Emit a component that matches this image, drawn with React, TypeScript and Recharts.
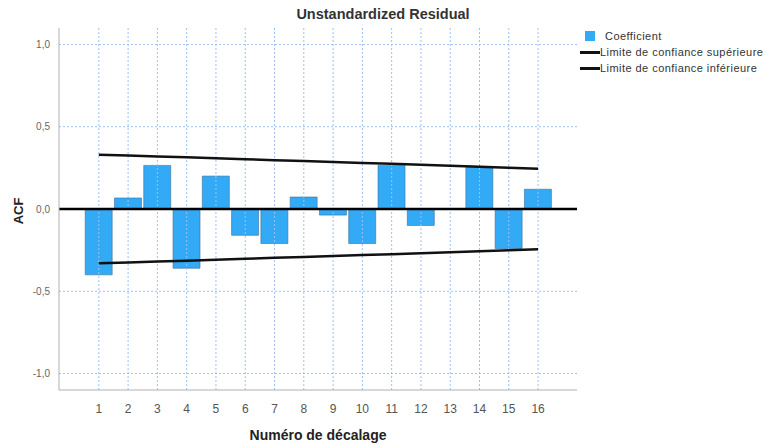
import React from "react";
import {
  ComposedChart,
  Bar,
  Line,
  XAxis,
  YAxis,
  ReferenceLine,
} from "recharts";

const lags = [1, 2, 3, 4, 5, 6, 7, 8, 9, 10, 11, 12, 13, 14, 15, 16];
const coefficient = [-0.4, 0.067, 0.265, -0.36, 0.2, -0.16, -0.21, 0.073, -0.037, -0.21, 0.265, -0.1, 0.0, 0.252, -0.24, 0.12];
const upperLimit = [0.33, 0.325, 0.319, 0.314, 0.308, 0.303, 0.297, 0.292, 0.286, 0.28, 0.275, 0.269, 0.263, 0.257, 0.251, 0.245];
const lowerLimit = [-0.33, -0.325, -0.319, -0.314, -0.308, -0.303, -0.297, -0.292, -0.286, -0.28, -0.275, -0.269, -0.263, -0.257, -0.251, -0.245];
const yTicks = [-1, -0.5, 0, 0.5, 1];

const data = lags.map((lag, i) => ({
  lag,
  coef: coefficient[i],
  upper: upperLimit[i],
  lower: lowerLimit[i],
}));

const FONT = "'Liberation Sans', Arial, sans-serif";
const GRID = "#9dc0f2";

export default function App() {
  return (
    <div style={{ position: "absolute", left: 0, top: 0, width: 766, height: 444, background: "#fff", fontFamily: FONT }}>
      <ComposedChart
        width={766}
        height={444}
        data={data}
        margin={{ top: 28, right: 189, bottom: 24, left: 29 }}
      >
        {lags.map((l) => (
          <ReferenceLine key={"vx" + l} x={l} stroke={GRID} strokeDasharray="2 2" strokeWidth={1} />
        ))}
        {yTicks.filter((t) => t !== 0).map((t) => (
          <ReferenceLine key={"hy" + t} y={t} stroke={GRID} strokeDasharray="2 2" strokeWidth={1} />
        ))}
        <XAxis
          dataKey="lag"
          type="number"
          domain={[-0.36, 17.33]}
          ticks={lags}
          allowDataOverflow
          interval={0}
          height={30}
          tickLine={false}
          tickMargin={8}
          stroke="#b0b0b0"
          tick={{ fill: "#555", fontSize: 12, fontFamily: FONT }}
        />
        <YAxis
          type="number"
          domain={[-1.1, 1.1]}
          ticks={yTicks}
          allowDataOverflow
          width={30}
          tickLine={false}
          tickMargin={3}
          stroke="#b0b0b0"
          tick={{ fill: "#666", fontSize: 10, fontFamily: FONT }}
          tickFormatter={(v: number) => v.toFixed(1).replace(".", ",")}
        />
        <Bar
          dataKey="coef"
          barSize={27}
          fill="#33aaf6"
          stroke="#3a6f99"
          strokeWidth={0.6}
          isAnimationActive={false}
        />
        <ReferenceLine y={0} stroke="#000" strokeWidth={2.5} />
        <Line
          dataKey="upper"
          type="linear"
          stroke="#111"
          strokeWidth={2.5}
          dot={false}
          activeDot={false}
          isAnimationActive={false}
        />
        <Line
          dataKey="lower"
          type="linear"
          stroke="#111"
          strokeWidth={2.5}
          dot={false}
          activeDot={false}
          isAnimationActive={false}
        />
      </ComposedChart>

      <div
        style={{
          position: "absolute",
          left: 283,
          width: 200,
          top: 6,
          textAlign: "center",
          fontWeight: "bold",
          fontSize: 14.5,
          color: "#333",
          whiteSpace: "nowrap",
        }}
      >
        Unstandardized Residual
      </div>

      <div
        style={{
          position: "absolute",
          left: 18,
          top: 211,
          transform: "translate(-50%, -50%) rotate(-90deg)",
          fontWeight: "bold",
          fontSize: 13,
          color: "#222",
          whiteSpace: "nowrap",
        }}
      >
        ACF
      </div>

      <div
        style={{
          position: "absolute",
          left: 218,
          width: 200,
          textAlign: "center",
          top: 427,
          fontWeight: "bold",
          fontSize: 14,
          color: "#222",
          whiteSpace: "nowrap",
        }}
      >
        Numéro de décalage
      </div>

      <div style={{ position: "absolute", left: 580, top: 28, fontSize: 11, letterSpacing: 0.45, color: "#333", lineHeight: "16px" }}>
        <div style={{ display: "flex", alignItems: "center", height: 16 }}>
          <span style={{ display: "inline-block", width: 10, height: 10, background: "#33aaf6", marginLeft: 5, marginRight: 10 }} />
          <span>Coefficient</span>
        </div>
        <div style={{ display: "flex", alignItems: "center", height: 16 }}>
          <span style={{ display: "inline-block", width: 20, height: 3, background: "#111", marginRight: 0 }} />
          <span>Limite de confiance supérieure</span>
        </div>
        <div style={{ display: "flex", alignItems: "center", height: 16 }}>
          <span style={{ display: "inline-block", width: 20, height: 3, background: "#111", marginRight: 0 }} />
          <span>Limite de confiance inférieure</span>
        </div>
      </div>
    </div>
  );
}
